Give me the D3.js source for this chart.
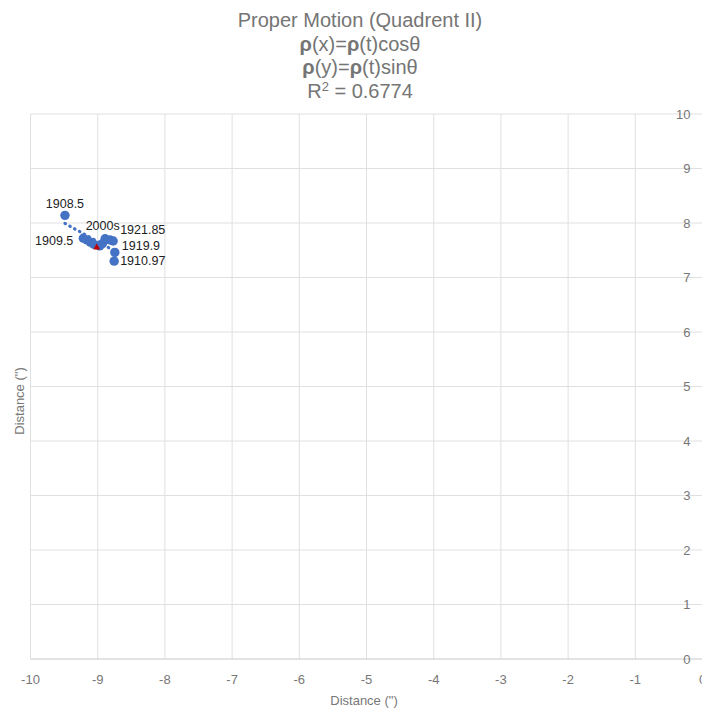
<!DOCTYPE html>
<html>
<head>
<meta charset="utf-8">
<script src="https://cdn.jsdelivr.net/npm/d3@7/dist/d3.min.js"></script>
<style>
  body { margin: 0; background: #fff; }
  svg { font-family: "Liberation Sans", Arial, sans-serif; display: block; }
</style>
</head>
<body>
<script>
// proper motion positions, arcsec (quadrant II)
const epochX = [-9.487, -9.214, -9.16, -9.11, -9.06, -8.97, -8.93, -8.89, -8.82, -8.77, -8.745, -8.755];
const epochY = [8.14, 7.72, 7.69, 7.65, 7.61, 7.58, 7.62, 7.71, 7.69, 7.67, 7.46, 7.30];
const epochLabels = ["1908.5", "1909.5", "", "", "", "", "", "", "", "1921.85", "1919.9", "1910.97"];

const modernX = [-9.015];
const modernY = [7.55];
const modernLabels = ["2000s"];

const xTicks = [-10, -9, -8, -7, -6, -5, -4, -3, -2, -1, 0];
const yTicks = [0, 1, 2, 3, 4, 5, 6, 7, 8, 9, 10];

const titleLines = ["Proper Motion (Quadrent II)", "ρ(x)=ρ(t)cosθ", "ρ(y)=ρ(t)sinθ", "R2 = 0.6774"];

const W = 702, H = 709;
const margin = { top: 114, right: -0.5, bottom: 50, left: 30.5 };

const svg = d3.select("body").append("svg")
  .attr("width", W)
  .attr("height", H);

const x = d3.scaleLinear().domain([-10, 0]).range([margin.left, W - margin.right]);
const y = d3.scaleLinear().domain([0, 10]).range([H - margin.bottom, margin.top]);

// grid
const grid = svg.append("g");
grid.selectAll(".vx").data(xTicks).join("line")
  .attr("x1", d => x(d)).attr("x2", d => x(d))
  .attr("y1", y(10)).attr("y2", y(0))
  .attr("stroke", "#e0e0e0").attr("stroke-width", 1);
grid.selectAll(".hy").data(yTicks).join("line")
  .attr("x1", x(-10)).attr("x2", W)
  .attr("y1", d => y(d)).attr("y2", d => y(d))
  .attr("stroke", d => d === 0 ? "#c8c8c8" : "#e0e0e0").attr("stroke-width", 1);

// tick labels
svg.append("g").selectAll("text").data(xTicks).join("text")
  .attr("x", d => x(d)).attr("y", y(0) + 24.5)
  .attr("text-anchor", "middle")
  .attr("font-size", 13).attr("fill", "#777")
  .text(d => d);

svg.append("g").selectAll("text").data(yTicks).join("text")
  .attr("x", 690.5).attr("y", d => y(d) + 4.5)
  .attr("text-anchor", "end")
  .attr("font-size", 13).attr("fill", "#777")
  .text(d => d);

// axis titles
svg.append("text")
  .attr("x", 364).attr("y", 705)
  .attr("text-anchor", "middle").attr("font-size", 13).attr("fill", "#777")
  .text("Distance (\")");

svg.append("text")
  .attr("transform", `translate(24,401) rotate(-90)`)
  .attr("text-anchor", "middle").attr("font-size", 13).attr("fill", "#777")
  .text("Distance (\")");

// title
const title = svg.append("g").attr("fill", "#757575").attr("font-size", 20).attr("text-anchor", "middle");
titleLines.forEach((line, i) => {
  const t = title.append("text").attr("x", 360).attr("y", 27 + i * 23.6);
  if (i === 3) {
    t.append("tspan").text("R");
    t.append("tspan").attr("font-size", 13).attr("dy", -7).text("2");
    t.append("tspan").attr("dy", 7).text(" = 0.6774");
  } else {
    line.split(/(ρ)/).filter(s => s).forEach(s => {
      t.append("tspan").attr("font-weight", s === "ρ" ? "bold" : null).text(s);
    });
  }
});

// least squares trend line
const pts = epochX.map((d, i) => ({ x: d, y: epochY[i], label: epochLabels[i] }));
const mx = d3.mean(pts, d => d.x), my = d3.mean(pts, d => d.y);
const slope = d3.sum(pts, d => (d.x - mx) * (d.y - my)) / d3.sum(pts, d => (d.x - mx) ** 2);
const xr = d3.extent(pts, d => d.x);
svg.append("line")
  .attr("x1", x(xr[0])).attr("y1", y(my + slope * (xr[0] - mx)))
  .attr("x2", x(xr[1])).attr("y2", y(my + slope * (xr[1] - mx)))
  .attr("stroke", "#4472c4").attr("stroke-width", 3.2)
  .attr("stroke-linecap", "round").attr("stroke-dasharray", "0.5,5");

svg.append("g").selectAll("circle").data(pts).join("circle")
  .attr("cx", d => x(d.x)).attr("cy", d => y(d.y))
  .attr("r", 4.7).attr("fill", "#4472c4");

const modern = modernX.map((d, i) => ({ x: d, y: modernY[i], label: modernLabels[i] }));
svg.append("g").selectAll("path").data(modern).join("path")
  .attr("transform", d => `translate(${x(d.x)},${y(d.y)})`)
  .attr("d", d3.symbol(d3.symbolTriangle, 20))
  .attr("fill", "#c00000");

// annotation placement (google-style collision shifting)
const place = {
  "1908.5": { dx: 0, dy: -7, anchor: "middle" },
  "1909.5": { dx: -10, dy: 7, anchor: "end" },
  "1921.85": { dx: 7, dy: -6.5, anchor: "start" },
  "1919.9": { dx: 7, dy: -2.5, anchor: "start" },
  "1910.97": { dx: 6, dy: 3.5, anchor: "start" },
  "2000s": { dx: 6, dy: -18, anchor: "middle" }
};

svg.append("g").selectAll("text").data(pts.concat(modern).filter(d => d.label)).join("text")
  .attr("x", d => x(d.x) + place[d.label].dx)
  .attr("y", d => y(d.y) + place[d.label].dy)
  .attr("text-anchor", d => place[d.label].anchor)
  .attr("font-size", 12.5).attr("fill", "#222")
  .text(d => d.label);
</script>
</body>
</html>
